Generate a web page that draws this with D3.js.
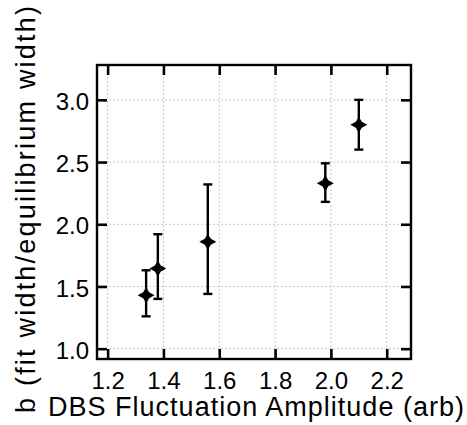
<!DOCTYPE html>
<html>
<head>
<meta charset="utf-8">
<script src="https://cdn.jsdelivr.net/npm/d3@7"></script>
<style>
  html, body { margin: 0; padding: 0; background: #fff; }
  svg { display: block; font-family: "Liberation Sans", Arial, sans-serif; }
</style>
</head>
<body>
<div id="chart"></div>
<script>
// values
const amplitude = [1.338, 1.38, 1.559, 1.98, 2.10];
const widthRatio = [1.43, 1.645, 1.86, 2.33, 2.80];
const errLow = [1.26, 1.40, 1.44, 2.18, 2.60];
const errHigh = [1.63, 1.92, 2.32, 2.49, 3.00];
const xTicks = [1.2, 1.4, 1.6, 1.8, 2.0, 2.2];
const yTicks = [1.0, 1.5, 2.0, 2.5, 3.0];

const W = 467, H = 425;
const frame = { left: 97, right: 411, top: 65, bottom: 359 };

const svg = d3.select('#chart').append('svg')
  .attr('width', W)
  .attr('height', H);

const x = d3.scaleLinear().domain([1.162, 2.287]).range([frame.left, frame.right]);
const y = d3.scaleLinear().domain([0.917, 3.28]).range([frame.bottom, frame.top]);

// dotted grid
const grid = svg.append('g');
xTicks.forEach(t => {
  grid.append('line')
    .attr('x1', x(t)).attr('x2', x(t))
    .attr('y1', frame.top).attr('y2', frame.bottom)
    .attr('stroke', '#c4c4e4').attr('stroke-width', 1)
    .attr('stroke-dasharray', '2 2');
});
yTicks.forEach(t => {
  grid.append('line')
    .attr('x1', frame.left).attr('x2', frame.right)
    .attr('y1', y(t)).attr('y2', y(t))
    .attr('stroke', '#c4c4e4').attr('stroke-width', 1)
    .attr('stroke-dasharray', '2 2');
});

// axes: labels outside, ticks pointing inward, mirrored on top/right
const tickLen = 10;
const xAxis = d3.axisBottom(x).tickValues(xTicks).tickSize(-tickLen).tickPadding(13)
  .tickFormat(d3.format('.1f'));
const yAxis = d3.axisLeft(y).tickValues(yTicks).tickSize(-tickLen).tickPadding(8)
  .tickFormat(d3.format('.1f'));

const xg = svg.append('g').attr('transform', `translate(0,${frame.bottom})`).call(xAxis);
const yg = svg.append('g').attr('transform', `translate(${frame.left},0)`).call(yAxis);
svg.append('g').attr('transform', `translate(0,${frame.top})`)
  .call(d3.axisTop(x).tickValues(xTicks).tickSize(-tickLen).tickFormat(''));
svg.append('g').attr('transform', `translate(${frame.right},0)`)
  .call(d3.axisRight(y).tickValues(yTicks).tickSize(-tickLen).tickFormat(''));

svg.selectAll('.domain').remove();
svg.selectAll('.tick line').attr('stroke', '#000').attr('stroke-width', 2.6);
svg.selectAll('.tick text')
  .attr('fill', '#000')
  .style('font-family', '"Liberation Sans", Arial, sans-serif')
  .style('font-size', '24px');
xg.selectAll('.tick text').attr('dy', '0.71em');
yg.selectAll('.tick text').attr('dy', '0.40em');

// frame
svg.append('rect')
  .attr('x', frame.left).attr('y', frame.top)
  .attr('width', frame.right - frame.left)
  .attr('height', frame.bottom - frame.top)
  .attr('fill', 'none')
  .attr('stroke', '#000')
  .attr('stroke-width', 2.4);

// error bars
const pts = amplitude.map((a, i) => ({ a, b: widthRatio[i], lo: errLow[i], hi: errHigh[i] }));
const capW = 4.5;
const eg = svg.append('g').attr('stroke', '#000').attr('stroke-width', 2.4);
pts.forEach(d => {
  eg.append('line').attr('x1', x(d.a)).attr('x2', x(d.a)).attr('y1', y(d.lo)).attr('y2', y(d.hi));
  eg.append('line').attr('x1', x(d.a) - capW).attr('x2', x(d.a) + capW).attr('y1', y(d.lo)).attr('y2', y(d.lo));
  eg.append('line').attr('x1', x(d.a) - capW).attr('x2', x(d.a) + capW).attr('y1', y(d.hi)).attr('y2', y(d.hi));
});

// four-pointed star markers
const rx = 8.5, ry = 8, k = 3;
const star = `M0,${-ry}L${k},${-k}L${rx},0L${k},${k}L0,${ry}L${-k},${k}L${-rx},0L${-k},${-k}Z`;
svg.append('g').selectAll('path')
  .data(pts)
  .join('path')
  .attr('d', star)
  .attr('transform', d => `translate(${x(d.a)},${y(d.b)})`)
  .attr('fill', '#000');

// axis titles (stretched a little to the reference's wider lettering)
svg.append('text')
  .attr('x', 48).attr('y', 416)
  .attr('font-size', '27px')
  .attr('fill', '#000')
  .attr('textLength', 416)
  .attr('lengthAdjust', 'spacing')
  .text('DBS Fluctuation Amplitude (arb)');

svg.append('text')
  .attr('transform', 'translate(35,413) rotate(-90)')
  .attr('font-size', '27px')
  .attr('fill', '#000')
  .attr('textLength', 407)
  .attr('lengthAdjust', 'spacing')
  .text('b (fit width/equilibrium width)');
</script>
</body>
</html>
